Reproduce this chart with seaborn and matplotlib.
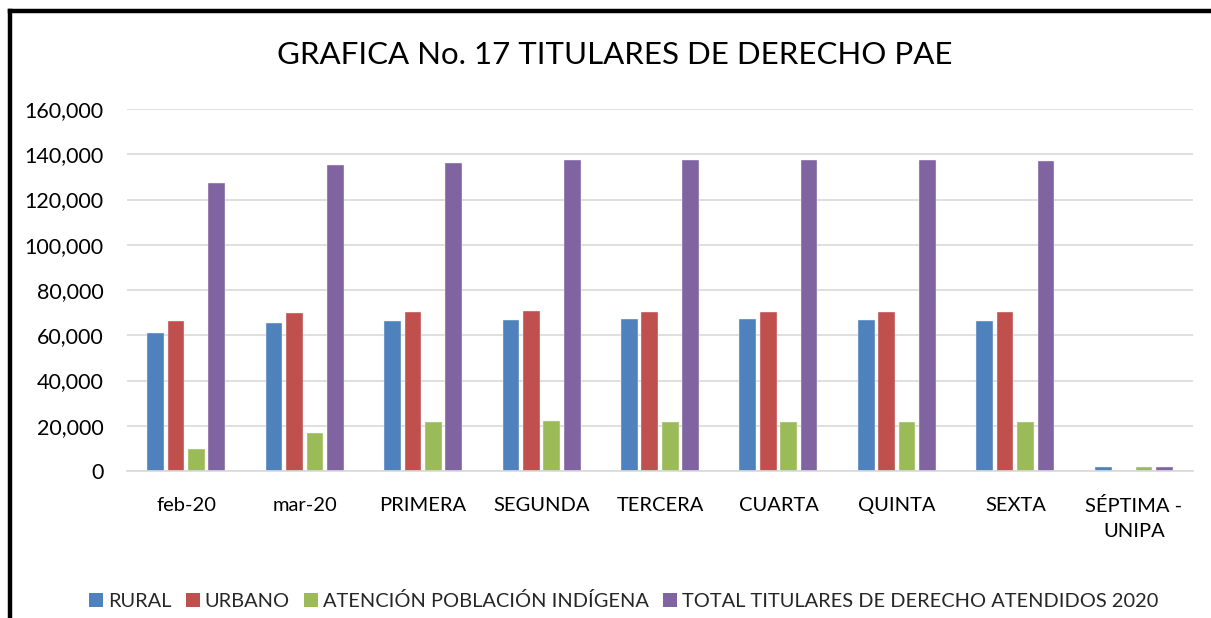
import matplotlib
matplotlib.use("Agg")
import matplotlib.pyplot as plt
import seaborn as sns
import pandas as pd
from matplotlib.lines import Line2D
from matplotlib.patches import Rectangle
from matplotlib.ticker import FuncFormatter

categories = ["feb-20", "mar-20", "PRIMERA", "SEGUNDA", "TERCERA", "CUARTA",
              "QUINTA", "SEXTA", "SÉPTIMA -\nUNIPA"]
rural = [60900, 65300, 66100, 66700, 67000, 67000, 66900, 66400, 1700]
urbano = [66100, 69700, 70100, 70500, 70400, 70400, 70400, 70400, 0]
indigena = [9700, 16900, 21600, 21900, 21600, 21600, 21600, 21700, 1600]
total = [127100, 135300, 136300, 137400, 137500, 137500, 137400, 136900, 1700]
series_names = ["RURAL", "URBANO", "ATENCIÓN POBLACIÓN INDÍGENA",
                "TOTAL TITULARES DE DERECHO ATENDIDOS 2020"]
colors = ["#4F81BD", "#C0504D", "#9BBB59", "#8064A2"]
yticks = [0, 20000, 40000, 60000, 80000, 100000, 120000, 140000, 160000]
title = "GRAFICA No. 17 TITULARES DE DERECHO PAE"

rows = []
for name, vals in zip(series_names, [rural, urbano, indigena, total]):
    for c, v in zip(categories, vals):
        rows.append({"cat": c, "serie": name, "valor": v})
df = pd.DataFrame(rows)

sns.set_theme(style="white")
plt.rcParams["font.family"] = ["Lato", "DejaVu Sans"]

fig = plt.figure(figsize=(12.11, 6.18), dpi=100)
ax = fig.add_axes([127 / 1211, 1 - 471 / 618, (1193 - 127) / 1211, (471 - 109) / 618])

sns.barplot(data=df, x="cat", y="valor", hue="serie", order=categories,
            hue_order=series_names, palette=colors, width=0.69, gap=0.18,
            saturation=1, ax=ax, legend=False, edgecolor="#f2f2f2", linewidth=0.3)

ax.set_ylim(0, 160000)
ax.set_xlim(-0.5, len(categories) - 0.5)
ax.set_yticks(yticks)
ax.yaxis.set_major_formatter(FuncFormatter(lambda v, p: f"{int(v):,}"))
ax.grid(axis="y", color="#d9d9d9", linewidth=1.2)
ax.set_axisbelow(True)
for s in ["top", "right", "left"]:
    ax.spines[s].set_visible(False)
ax.spines["bottom"].set_color("#d9d9d9")
ax.spines["bottom"].set_linewidth(1.2)
ax.tick_params(axis="y", length=0, pad=17, labelsize=15.5, labelcolor="#000000")
ax.tick_params(axis="x", length=0, pad=19, labelsize=14.5, labelcolor="#000000")
for lbl in ax.get_xticklabels():
    lbl.set_linespacing(1.55)
ax.set_xlabel("")
ax.set_ylabel("")

fig.text(0.508, 1 - 55 / 618, title, ha="center", va="center", fontsize=22.5, color="#000000")

handles = [Rectangle((0, 0), 1, 1, facecolor=c, edgecolor="none") for c in colors]
fig.legend(handles, series_names, loc="center", bbox_to_anchor=(0.515, 1 - 601 / 618),
           ncol=4, frameon=False, fontsize=14.4, handlelength=0.7, handleheight=0.7,
           handletextpad=0.25, columnspacing=0.7)

# outer frame lines (left and top)
fig.add_artist(Line2D([10 / 1211, 10 / 1211], [0, 1 - 10.5 / 618], transform=fig.transFigure,
                      color="black", linewidth=3.2, solid_capstyle="projecting"))
fig.add_artist(Line2D([10 / 1211, 1], [1 - 10.5 / 618, 1 - 10.5 / 618], transform=fig.transFigure,
                      color="black", linewidth=3.2, solid_capstyle="projecting"))

fig.savefig("out.png", dpi=100, facecolor="white")
